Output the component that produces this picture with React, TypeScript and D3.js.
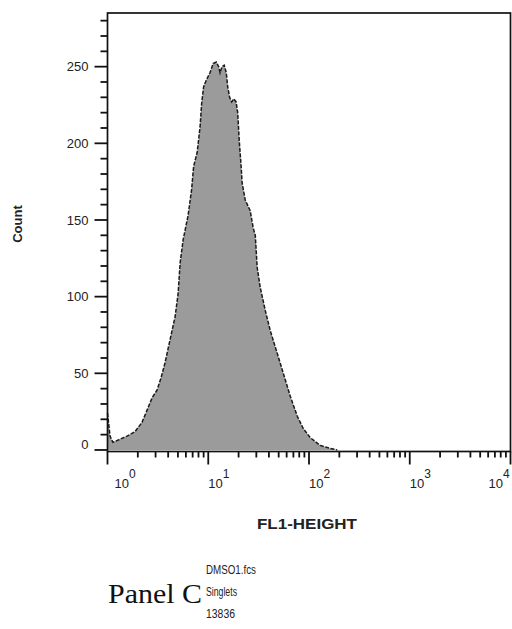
import React, { useRef, useEffect } from 'react';
import * as d3 from 'd3';

// FL1-HEIGHT histogram (DMSO1.fcs, Singlets gate)
const fl1 = [1.0, 1.06, 1.13, 1.33, 1.56, 1.88, 2.2, 2.47, 2.77, 3.1, 3.4, 3.73, 4.18, 4.69, 5.02, 5.26, 5.63, 6.31, 6.84, 7.16,
  7.76, 8.3, 8.6, 9.0, 9.53, 10.4, 11.2, 12.0, 12.7, 13.1, 13.7, 14.4, 15.1, 15.6, 16.3, 17.1, 17.9, 18.9, 19.6, 20.3,
  21.2, 21.7, 23.3, 26.1, 27.9, 29.3, 30.6, 32.8, 36.8, 41.2, 48.4, 55.6, 65.2, 76.5, 87.7, 103, 129, 163, 191, 10000];
const counts = [24, 9, 5, 7, 9, 12, 18, 26, 34, 39, 47, 57, 72, 87, 102, 122, 137, 153, 170, 185,
  194, 211, 226, 237, 241, 246, 252, 253, 250, 246, 250, 251, 246, 237, 230, 227, 229, 227, 220, 202,
  185, 174, 163, 156, 145, 140, 119, 106, 91, 78, 63, 50, 35, 22, 14, 8, 3, 1, 0, 0];

const decades = [1, 10, 100, 1000, 10000];
const decadeExp = ['0', '1', '2', '3', '4'];
const yTicks = [0, 50, 100, 150, 200, 250];
const infoLines = ['DMSO1.fcs', 'Singlets', '13836'];

const sans = '"Liberation Sans", Arial, sans-serif';

const App = () => {
  const ref = useRef(null);

  useEffect(() => {
    const width = 512;
    const height = 629;
    const svg = d3.select(ref.current).attr('width', width).attr('height', height);
    svg.selectAll('*').remove();

    const left = 107.5, right = 510.5, top = 13, axisY = 451.5;

    const x = d3.scaleLog().domain([1, 10000]).range([left, right]);
    const y = d3.scaleLinear().domain([-1, 285]).range([axisY, top]);

    const data = fl1.map((v, i) => ({ v, c: counts[i] }));
    // outline stops where the histogram reaches zero for good
    const lastNonZero = counts.findIndex((c, i) => i > 0 && c === 0);
    const outline = data.slice(0, lastNonZero + 1);

    const area = d3.area()
      .x(d => x(d.v))
      .y0(y(0))
      .y1(d => y(d.c));
    const line = d3.line()
      .x(d => x(d.v))
      .y(d => y(d.c));

    svg.append('path')
      .datum(data)
      .attr('d', area)
      .style('fill', '#9b9b9b');

    svg.append('path')
      .datum(outline)
      .attr('d', line)
      .style('fill', 'none')
      .style('stroke', '#1a1a1a')
      .style('stroke-width', 1.5)
      .style('stroke-dasharray', '4 1.5');

    // frame
    svg.append('rect')
      .attr('x', left).attr('y', top)
      .attr('width', right - left).attr('height', axisY - top)
      .style('fill', 'none').style('stroke', '#111').style('stroke-width', 1.7);

    // y axis ticks
    const yMinor = d3.range(0, 281, 10);
    svg.append('g').selectAll('line')
      .data(yMinor)
      .enter().append('line')
      .attr('x1', d => d % 50 === 0 ? left - 13 : left - 7)
      .attr('x2', left)
      .attr('y1', d => y(d)).attr('y2', d => y(d))
      .style('stroke', '#111').style('stroke-width', 1.8);

    svg.append('g').selectAll('text')
      .data(yTicks)
      .enter().append('text')
      .attr('x', left - 19)
      .attr('y', d => y(d) + (d === 0 ? -6 : 0))
      .attr('dy', '0.35em')
      .style('text-anchor', 'end')
      .style('font-family', sans)
      .style('font-size', '13px')
      .style('fill', '#222')
      .text(d => d);

    // x axis ticks
    const xMinor = [];
    decades.slice(0, -1).forEach(dec => {
      for (let k = 1; k <= 10; k++) xMinor.push(dec * k);
    });
    svg.append('g').selectAll('line')
      .data(Array.from(new Set(xMinor)))
      .enter().append('line')
      .attr('x1', d => x(d)).attr('x2', d => x(d))
      .attr('y1', axisY)
      .attr('y2', d => decades.includes(d) ? axisY + 13 : axisY + 6)
      .style('stroke', '#111').style('stroke-width', 1.8);

    const lbl = svg.append('g').selectAll('text')
      .data(decades)
      .enter().append('text')
      .attr('x', (d, i) => x(d) + (i === 0 ? 7 : i === decades.length - 1 ? -22 : 0))
      .attr('y', 488)
      .style('font-family', sans)
      .style('font-size', '13px')
      .style('fill', '#222');
    lbl.append('tspan').text('10');
    lbl.append('tspan')
      .attr('dy', -10)
      .style('font-size', '12px')
      .text((d, i) => decadeExp[i]);

    svg.append('text')
      .attr('transform', 'translate(22,224) rotate(-90)')
      .style('text-anchor', 'middle')
      .style('font-family', sans)
      .style('font-weight', 'bold')
      .style('font-size', '13px')
      .style('fill', '#222')
      .text('Count');

    svg.append('text')
      .attr('x', 257).attr('y', 529)
      .attr('textLength', 100)
      .attr('lengthAdjust', 'spacingAndGlyphs')
      .style('font-family', sans)
      .style('font-weight', 'bold')
      .style('font-size', '15px')
      .style('fill', '#222')
      .text('FL1-HEIGHT');

    svg.append('text')
      .attr('x', 108).attr('y', 603)
      .attr('textLength', 94)
      .attr('lengthAdjust', 'spacingAndGlyphs')
      .style('font-family', '"Liberation Serif", "Times New Roman", serif')
      .style('font-size', '27px')
      .style('fill', '#111')
      .text('Panel C');

    const infoWidths = [50, 31, 29];
    svg.append('g').selectAll('text')
      .data(infoLines)
      .enter().append('text')
      .attr('x', 206)
      .attr('y', (d, i) => 574 + i * 22)
      .attr('textLength', (d, i) => infoWidths[i])
      .attr('lengthAdjust', 'spacingAndGlyphs')
      .style('font-family', sans)
      .style('font-size', '12.5px')
      .style('fill', '#222')
      .text(d => d);
  }, []);

  return <svg ref={ref} style={{ position: 'absolute', left: 0, top: 0 }} />;
};

export default App;
